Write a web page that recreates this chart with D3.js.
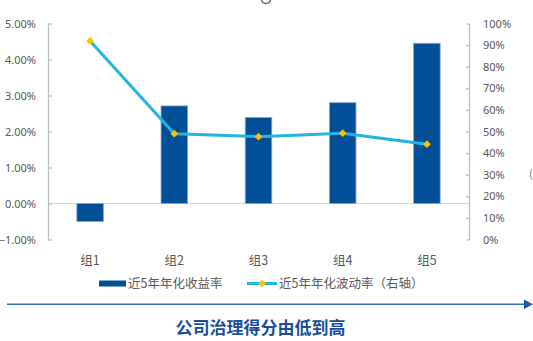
<!DOCTYPE html>
<html>
<head>
<meta charset="utf-8">
<script src="https://cdn.jsdelivr.net/npm/d3@7"></script>
<style>
  html, body { margin: 0; padding: 0; background: #fff; }
  svg { display: block; font-family: "Noto Sans CJK SC", "Noto Sans", sans-serif; }
</style>
</head>
<body>
<svg id="chart" width="533" height="341"></svg>
<script>
// Groups sorted by corporate-governance score, low to high
const categories = ["组1", "组2", "组3", "组4", "组5"];
// 5-year annualised return (%), left axis
const returns = [-0.50, 2.71, 2.39, 2.80, 4.45];
// 5-year annualised volatility (%), right axis
const volatility = [91.9, 49.0, 47.6, 49.2, 44.1];

const leftTicks = [-1, 0, 1, 2, 3, 4, 5];
const rightTicks = [0, 10, 20, 30, 40, 50, 60, 70, 80, 90, 100];

const legendLabels = ["近5年年化收益率", "近5年年化波动率（右轴）"];
const footerLabel = "公司治理得分由低到高";

const colors = {
  bar: "#024F97",
  barEdge: "#7FA6D4",
  line: "#22B4E3",
  marker: "#FFC000",
  axis: "#BFBFBF",
  zero: "#D9D9D9",
  text: "#595959",
  arrow: "#3A6DB3",
  footer: "#1A4E9B"
};

const svg = d3.select("#chart");
const plot = { left: 48, right: 469, top: 23.5, bottom: 239.5 };

const x = d3.scaleBand()
  .domain(categories)
  .range([plot.left, plot.right])
  .paddingInner(0.685)
  .paddingOuter(0.3425);

const yL = d3.scaleLinear().domain([-1, 5]).range([plot.bottom, plot.top]);
const yR = d3.scaleLinear().domain([0, 100]).range([plot.bottom, plot.top]);

// zero baseline across the plot
svg.append("line")
  .attr("x1", plot.left).attr("x2", plot.right)
  .attr("y1", yL(0)).attr("y2", yL(0))
  .attr("stroke", colors.zero).attr("stroke-width", 1.2);

// left axis
const leftAxis = d3.axisLeft(yL)
  .tickValues(leftTicks)
  .tickSizeInner(-4).tickSizeOuter(0)
  .tickPadding(12)
  .tickFormat(d => d3.format(".2f")(d) + "%");
const gL = svg.append("g").attr("transform", `translate(${plot.left},0)`).call(leftAxis);

// right axis
const rightAxis = d3.axisRight(yR)
  .tickValues(rightTicks)
  .tickSizeInner(-3).tickSizeOuter(0)
  .tickPadding(14)
  .tickFormat(d => d + "%");
const gR = svg.append("g").attr("transform", `translate(${plot.right},0)`).call(rightAxis);

[gL, gR].forEach(g => {
  g.select(".domain").attr("stroke", colors.axis).attr("stroke-width", 1.3);
  g.selectAll(".tick line").attr("stroke", colors.axis).attr("stroke-width", 1.3);
  g.selectAll(".tick text")
    .attr("fill", colors.text)
    .style("font-size", "11px")
    .style("font-family", "'Noto Sans', sans-serif");
});

// bars
svg.append("g").selectAll("rect")
  .data(returns)
  .join("rect")
  .attr("x", (d, i) => x(categories[i]))
  .attr("width", x.bandwidth())
  .attr("y", d => yL(Math.max(0, d)))
  .attr("height", d => Math.abs(yL(d) - yL(0)))
  .attr("fill", colors.bar)
  .attr("stroke", colors.barEdge)
  .attr("stroke-width", 0.8);

// volatility line (straight segments)
const line = d3.line()
  .x((d, i) => x(categories[i]) + x.bandwidth() / 2)
  .y(d => yR(d));

svg.append("path")
  .datum(volatility)
  .attr("d", line)
  .attr("fill", "none")
  .attr("stroke", colors.line)
  .attr("stroke-width", 3)
  .attr("stroke-linejoin", "round");

// diamond markers: squares turned 45 degrees
const marker = d3.symbol().type(d3.symbolSquare).size(30);
svg.append("g").selectAll("path")
  .data(volatility)
  .join("path")
  .attr("d", marker)
  .attr("transform", (d, i) => `translate(${x(categories[i]) + x.bandwidth() / 2},${yR(d)}) rotate(45)`)
  .attr("fill", colors.marker);

// category labels
svg.append("g").selectAll("text")
  .data(categories)
  .join("text")
  .attr("x", d => x(d) + x.bandwidth() / 2)
  .attr("y", 264.5)
  .attr("text-anchor", "middle")
  .attr("fill", colors.text)
  .style("font-size", "12.5px")
  .text(d => d);

// legend
const lg = svg.append("g");
lg.append("rect")
  .attr("x", 99).attr("y", 280.5).attr("width", 27).attr("height", 6)
  .attr("fill", colors.bar);
lg.append("text")
  .attr("x", 128).attr("y", 288)
  .attr("fill", colors.text)
  .style("font-size", "12.5px")
  .text(legendLabels[0]);
lg.append("line")
  .attr("x1", 247).attr("x2", 277).attr("y1", 283.5).attr("y2", 283.5)
  .attr("stroke", colors.line).attr("stroke-width", 3);
lg.append("path")
  .attr("d", marker)
  .attr("transform", "translate(262,283.5) rotate(45)")
  .attr("fill", colors.marker);
lg.append("text")
  .attr("x", 279).attr("y", 288)
  .attr("fill", colors.text)
  .style("font-size", "12.5px")
  .text(legendLabels[1]);

// direction arrow under the chart
svg.append("line")
  .attr("x1", 7).attr("x2", 526).attr("y1", 304.3).attr("y2", 304.3)
  .attr("stroke", colors.arrow).attr("stroke-width", 1.6);
svg.append("path")
  .attr("d", "M524,299.5 L533,304.3 L524,309.1 Z")
  .attr("fill", "#1A5AA8");

svg.append("text")
  .attr("x", 260.5).attr("y", 334)
  .attr("text-anchor", "middle")
  .attr("fill", colors.footer)
  .style("font-size", "17px")
  .style("font-weight", "bold")
  .text(footerLabel);

// edge fragments of neighbouring page content
svg.append("path")
  .attr("d", "M261.5,0 Q262,3.5 266,3.5 Q270,3.5 270.5,0")
  .attr("fill", "none")
  .attr("stroke", "#666")
  .attr("stroke-width", 1.4);
svg.append("text")
  .attr("x", 529).attr("y", 178)
  .attr("fill", "#777")
  .style("font-size", "11px")
  .text("(");
</script>
</body>
</html>
